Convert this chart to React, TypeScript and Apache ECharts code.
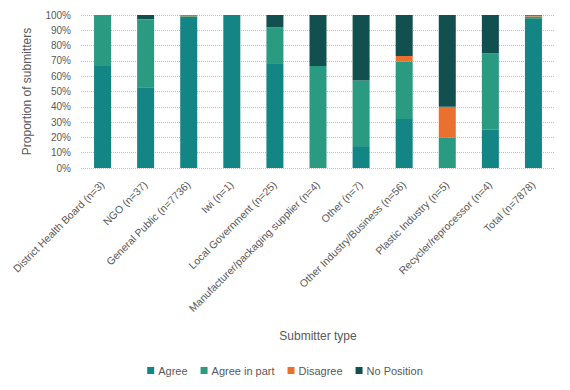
import React, { useEffect, useRef } from "react";
import * as echarts from "echarts";

const categories = [
  "District Health Board (n=3)",
  "NGO (n=37)",
  "General Public (n=7736)",
  "Iwi (n=1)",
  "Local Government (n=25)",
  "Manufacturer/packaging supplier (n=4)",
  "Other (n=7)",
  "Other Industry/Business (n=56)",
  "Plastic Industry (n=5)",
  "Recycler/reprocessor (n=4)",
  "Total (n=7878)",
];

const agree = [66.7, 52.7, 98.8, 100, 68, 0, 14.3, 32.1, 0, 25, 97.8];
const agreeInPart = [33.3, 44.6, 0.4, 0, 24, 66.7, 42.9, 37.5, 20, 50, 1.2];
const disagree = [0, 0, 0.6, 0, 0, 0, 0, 3.6, 20, 0, 0.6];
const noPosition = [0, 2.7, 0.2, 0, 8, 33.3, 42.8, 26.8, 60, 25, 0.4];

const seriesNames = ["Agree", "Agree in part", "Disagree", "No Position"];
const seriesData = [agree, agreeInPart, disagree, noPosition];
const colors = ["#138585", "#2a9a80", "#ea7030", "#11504f"];

const FONT = "Liberation Sans";
const TXT = "#595959";

export default function App() {
  const ref = useRef<HTMLDivElement>(null);
  useEffect(() => {
    if (!ref.current) return;
    const chart = echarts.init(ref.current, undefined, { renderer: "svg" });
    chart.setOption({
      animation: false,
      backgroundColor: "#ffffff",
      textStyle: { fontFamily: FONT, color: TXT },
      grid: { left: 81, right: 15, top: 15, bottom: 222, containLabel: false },
      legend: {
        data: seriesNames,
        bottom: 9,
        left: "center",
        icon: "rect",
        itemWidth: 7,
        itemHeight: 7,
        itemGap: 13,
        textStyle: { fontFamily: FONT, color: TXT, fontSize: 11, padding: [0, 0, 0, -1] },
      },
      xAxis: {
        type: "category",
        data: categories,
        name: "Submitter type",
        nameLocation: "middle",
        nameGap: 162,
        nameTextStyle: { fontFamily: FONT, color: TXT, fontSize: 12 },
        axisLine: { show: false },
        axisTick: { show: false },
        axisLabel: {
          rotate: 45,
          interval: 0,
          margin: 15,
          fontSize: 10.5,
          fontFamily: FONT,
          color: TXT,
        },
      },
      yAxis: {
        type: "value",
        min: 0,
        max: 100,
        interval: 10,
        name: "Proportion of submitters",
        nameLocation: "middle",
        nameGap: 48,
        nameTextStyle: { fontFamily: FONT, color: TXT, fontSize: 12 },
        axisLine: { show: false },
        axisTick: { show: false },
        axisLabel: {
          formatter: "{value}%",
          fontSize: 10,
          fontFamily: FONT,
          color: TXT,
          margin: 10,
        },
        splitLine: { lineStyle: { color: "#bfbfbf", type: "dotted", width: 1 } },
      },
      series: seriesNames.map((name, i) => ({
        name,
        type: "bar",
        stack: "total",
        barWidth: 17,
        data: seriesData[i],
        itemStyle: { color: colors[i] },
      })),
    });
    return () => chart.dispose();
  }, []);
  return <div ref={ref} style={{ width: 570, height: 390, margin: -8 }} />;
}
